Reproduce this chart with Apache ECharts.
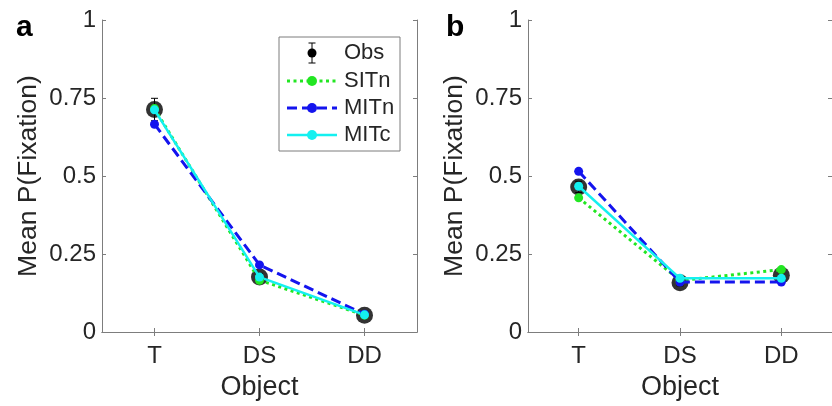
<!DOCTYPE html>
<html>
<head>
<meta charset="utf-8">
<script src="https://cdn.jsdelivr.net/npm/echarts@6/dist/echarts.min.js"></script>
<style>
  html, body { margin: 0; padding: 0; background: #fff; }
  #chart { width: 832px; height: 406px; }
</style>
</head>
<body>
<div id="chart"></div>
<script>
// Object categories and y-axis ticks
const categories = ['T', 'DS', 'DD'];
const yTicks = [0, 0.25, 0.5, 0.75, 1];

// Panel a: observed fixation probabilities (with error) and model predictions
const obsA = [0.713, 0.176, 0.054];
const obsErrA = [0.036, 0.012, 0.008];
const sitnA = [0.716, 0.166, 0.054];
const mitnA = [0.666, 0.215, 0.057];
const mitcA = [0.712, 0.176, 0.055];

// Panel b
const obsB = [0.465, 0.158, 0.182];
const obsErrB = [0.018, 0.010, 0.012];
const sitnB = [0.430, 0.165, 0.200];
const mitnB = [0.515, 0.160, 0.160];
const mitcB = [0.467, 0.172, 0.172];

const FONT = '"Liberation Sans", Arial, Helvetica, sans-serif';
const AXIS_GRAY = '#7d7d7d';
const TEXT = '#262626';
const COLORS = { obs: '#000000', sitn: '#22e622', mitn: '#1414ee', mitc: '#14f0f0' };
const DASH = { sitn: [3, 3.5], mitn: [10, 5], mitc: 'solid' };

const grids = [
  { left: 102, top: 20, width: 315, height: 313 },
  { left: 528, top: 20, width: 315, height: 313 }
];

function xAxesFor(gi) {
  return [
    {
      type: 'category', gridIndex: gi, data: categories, position: 'bottom',
      boundaryGap: true,
      name: 'Object', nameLocation: 'middle', nameGap: 42,
      nameTextStyle: { fontFamily: FONT, fontSize: 27, color: TEXT },
      axisLine: { show: true, lineStyle: { color: AXIS_GRAY, width: 1 } },
      axisTick: { show: true, inside: true, alignWithLabel: true, length: 4, lineStyle: { color: AXIS_GRAY } },
      axisLabel: { fontFamily: FONT, fontSize: 24, color: TEXT, margin: 12 },
      splitLine: { show: false }
    },
    {
      type: 'category', gridIndex: gi, data: categories, position: 'top',
      boundaryGap: true,
      axisLine: { show: true, lineStyle: { color: AXIS_GRAY, width: 1 } },
      axisTick: { show: true, inside: true, alignWithLabel: true, length: 4, lineStyle: { color: AXIS_GRAY } },
      axisLabel: { show: false },
      splitLine: { show: false }
    }
  ];
}

function yAxesFor(gi) {
  const common = {
    type: 'value', gridIndex: gi, min: yTicks[0], max: yTicks[yTicks.length - 1], interval: 0.25,
    axisLine: { show: true, lineStyle: { color: AXIS_GRAY, width: 1 } },
    axisTick: { show: true, inside: true, length: 4, lineStyle: { color: AXIS_GRAY } },
    splitLine: { show: false }
  };
  return [
    Object.assign({}, common, {
      position: 'left',
      name: 'Mean P(Fixation)', nameLocation: 'middle', nameGap: 60,
      nameTextStyle: { fontFamily: FONT, fontSize: 26.5, color: TEXT },
      axisLabel: { fontFamily: FONT, fontSize: 24, color: TEXT, margin: 6,
        formatter: v => (yTicks.includes(v) ? String(v) : '') }
    }),
    Object.assign({}, common, { position: 'right', axisLabel: { show: false } })
  ];
}

function seriesFor(gi, obs, err, sitn, mitn, mitc) {
  const xi = gi * 2, yi = gi * 2;
  const errData = obs.map((v, i) => [i, v - err[i], v + err[i]]);
  const lineSeries = (name, data, key) => ({
    name, type: 'line', xAxisIndex: xi, yAxisIndex: yi, data,
    symbol: 'circle', symbolSize: 9, showSymbol: true,
    itemStyle: { color: COLORS[key] },
    lineStyle: { color: COLORS[key], width: key === 'mitc' ? 2.5 : 3, type: DASH[key] },
    emphasis: { disabled: true }, animation: false
  });
  return [
    {
      name: 'Obs err', type: 'custom', xAxisIndex: xi, yAxisIndex: yi, data: errData,
      renderItem: (params, api) => {
        const lo = api.coord([api.value(0), api.value(1)]);
        const hi = api.coord([api.value(0), api.value(2)]);
        const cap = 3.5;
        const st = { stroke: '#000', lineWidth: 1 };
        return { type: 'group', children: [
          { type: 'line', shape: { x1: lo[0], y1: lo[1], x2: hi[0], y2: hi[1] }, style: st },
          { type: 'line', shape: { x1: hi[0] - cap, y1: hi[1], x2: hi[0] + cap, y2: hi[1] }, style: st },
          { type: 'line', shape: { x1: lo[0] - cap, y1: lo[1], x2: lo[0] + cap, y2: lo[1] }, style: st }
        ]};
      },
      animation: false
    },
    {
      name: 'Obs', type: 'scatter', xAxisIndex: xi, yAxisIndex: yi, data: obs,
      symbol: 'circle', symbolSize: 17, itemStyle: { color: COLORS.obs },
      emphasis: { disabled: true }, animation: false
    },
    lineSeries('SITn', sitn, 'sitn'),
    lineSeries('MITn', mitn, 'mitn'),
    lineSeries('MITc', mitc, 'mitc')
  ];
}

// Legend box for panel a, drawn as graphic elements
function legendGraphic() {
  const box = { x: 279, y: 37, w: 121, h: 114 };
  const rowsY = [53, 81, 108, 135];
  const x0 = 287, x1 = 337, xm = 312, xt = 344;
  const els = [{
    type: 'rect', shape: { x: box.x, y: box.y, width: box.w, height: box.h },
    style: { fill: '#fff', stroke: AXIS_GRAY, lineWidth: 1 }, z: 100
  }];
  // Obs: dot with error bar
  const yo = rowsY[0];
  els.push({ type: 'line', shape: { x1: xm, y1: yo - 10, x2: xm, y2: yo + 10 }, style: { stroke: '#000', lineWidth: 1 }, z: 101 });
  els.push({ type: 'line', shape: { x1: xm - 3.5, y1: yo - 10, x2: xm + 3.5, y2: yo - 10 }, style: { stroke: '#000', lineWidth: 1 }, z: 101 });
  els.push({ type: 'line', shape: { x1: xm - 3.5, y1: yo + 10, x2: xm + 3.5, y2: yo + 10 }, style: { stroke: '#000', lineWidth: 1 }, z: 101 });
  els.push({ type: 'circle', shape: { cx: xm, cy: yo, r: 4.5 }, style: { fill: '#000' }, z: 102 });
  const entries = [['SITn', 'sitn'], ['MITn', 'mitn'], ['MITc', 'mitc']];
  entries.forEach(([label, key], i) => {
    const y = rowsY[i + 1];
    const dash = DASH[key] === 'solid' ? null : DASH[key];
    els.push({ type: 'line', shape: { x1: x0, y1: y, x2: x1, y2: y },
      style: { stroke: COLORS[key], lineWidth: key === 'mitc' ? 2.5 : 3, lineDash: dash }, z: 101 });
    els.push({ type: 'circle', shape: { cx: xm, cy: y, r: 5 }, style: { fill: COLORS[key] }, z: 102 });
  });
  ['Obs', 'SITn', 'MITn', 'MITc'].forEach((label, i) => {
    els.push({ type: 'text', x: xt, y: rowsY[i], z: 102,
      style: { text: label, fontFamily: FONT, fontSize: 22, fill: TEXT, verticalAlign: 'middle', align: 'left' } });
  });
  return els;
}

const chart = echarts.init(document.getElementById('chart'), null, { renderer: 'canvas' });
chart.setOption({
  backgroundColor: '#ffffff',
  animation: false,
  grid: grids,
  xAxis: [...xAxesFor(0), ...xAxesFor(1)],
  yAxis: [...yAxesFor(0), ...yAxesFor(1)],
  series: [
    ...seriesFor(0, obsA, obsErrA, sitnA, mitnA, mitcA),
    ...seriesFor(1, obsB, obsErrB, sitnB, mitnB, mitcB)
  ],
  graphic: [
    { type: 'text', x: 16, y: 28, style: { text: 'a', fontFamily: FONT, fontSize: 30, fontWeight: 'bold', fill: '#000', verticalAlign: 'middle' } },
    { type: 'text', x: 446, y: 28, style: { text: 'b', fontFamily: FONT, fontSize: 30, fontWeight: 'bold', fill: '#000', verticalAlign: 'middle' } },
    ...legendGraphic()
  ]
});
</script>
</body>
</html>
